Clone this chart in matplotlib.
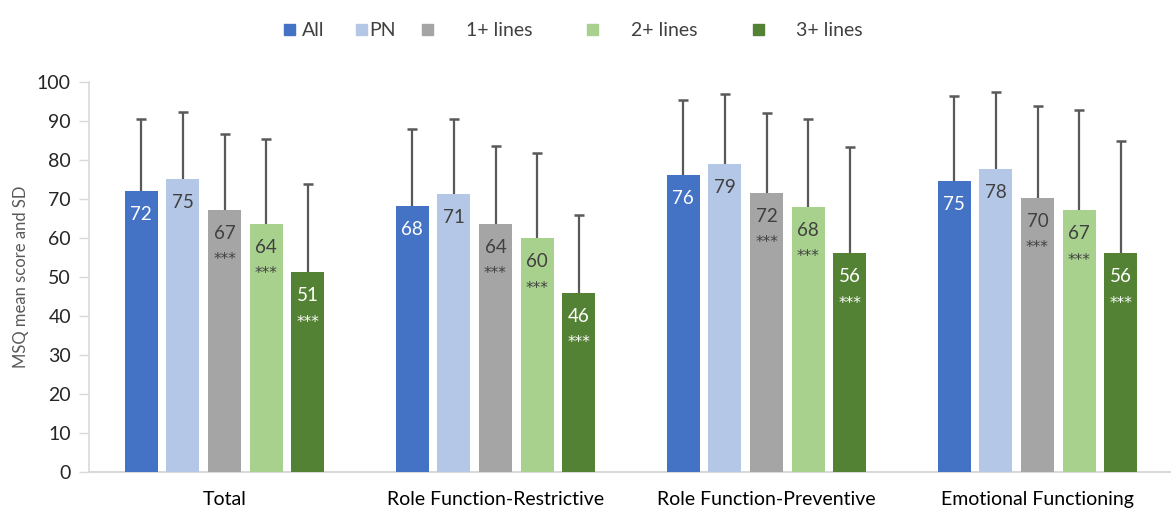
import matplotlib
matplotlib.use("Agg")
import matplotlib.pyplot as plt
import numpy as np
from matplotlib.patches import Rectangle

plt.rcParams["font.family"] = ["Lato", "DejaVu Sans"]

categories = ["Total", "Role Function-Restrictive", "Role Function-Preventive", "Emotional Functioning"]
series = ["All", "PN", "1+ lines", "2+ lines", "3+ lines"]
colors = ["#4472C4", "#B4C7E7", "#A5A5A5", "#A9D18E", "#548235"]
label_colors = ["white", "#404040", "#404040", "#404040", "white"]
significant = [False, False, True, True, True]

# mean MSQ scores per series (rows) and domain (columns)
mean_all = [72.0, 68.2, 76.1, 74.6]
mean_pn = [75.0, 71.3, 78.8, 77.7]
mean_1plus = [67.2, 63.6, 71.5, 70.2]
mean_2plus = [63.6, 59.8, 67.9, 67.0]
mean_3plus = [51.1, 45.8, 56.0, 56.0]

# standard deviations
sd_all = [18.4, 19.7, 19.2, 21.8]
sd_pn = [17.2, 19.1, 18.0, 19.6]
sd_1plus = [19.4, 19.9, 20.4, 23.6]
sd_2plus = [21.7, 22.0, 22.5, 25.7]
sd_3plus = [22.7, 20.1, 27.2, 28.9]

means = [mean_all, mean_pn, mean_1plus, mean_2plus, mean_3plus]
sds = [sd_all, sd_pn, sd_1plus, sd_2plus, sd_3plus]

W, H = 1171, 511
fig = plt.figure(figsize=(W / 100, H / 100), dpi=100)
# plot area runs slightly past the right edge of the canvas
ax = fig.add_axes([89 / W, 39.3 / H, 1084 / W, 390 / H])

x = np.arange(len(categories))
pitch = 0.154
width = 0.122
err_color = "#595959"

for i, (name, vals, sd) in enumerate(zip(series, means, sds)):
    xs = x + (i - 2) * pitch
    vals = np.array(vals)
    sd = np.array(sd)
    ax.bar(xs, vals, width=width, color=colors[i], zorder=3, label=name)
    ax.vlines(xs, vals, vals + sd, color=err_color, lw=1.6, zorder=2)
    ax.plot(xs, vals + sd, ls="none", marker="_", ms=7, mew=1.8,
            color=err_color, zorder=2)
    for xi, v in zip(xs, vals):
        ax.text(xi, v - 6.0, f"{v:.0f}", ha="center", va="center",
                fontsize=13.5, color=label_colors[i], zorder=4)
        if significant[i]:
            ax.text(xi, v - 12.8, "***", ha="center", va="center",
                    fontsize=11, color=label_colors[i], zorder=4,
                    family="DejaVu Sans")

ax.set_xlim(-0.5, len(categories) - 0.5)
ax.set_ylim(0, 100)
ax.set_yticks(np.arange(0, 101, 10))
ax.set_xticks(x)
ax.set_xticklabels(categories)
ax.tick_params(axis="x", length=0, pad=14, labelsize=14, labelcolor="#000000")
ax.tick_params(axis="y", length=7, width=1, color="#D9D9D9", pad=6,
               labelsize=14, labelcolor="#262626")
for side in ["top", "right"]:
    ax.spines[side].set_visible(False)
ax.spines["left"].set_color("#D9D9D9")
ax.spines["left"].set_linewidth(1.2)
ax.spines["bottom"].set_color("#D9D9D9")
ax.spines["bottom"].set_linewidth(1.5)
ax.set_ylabel("MSQ mean score and SD", fontsize=12, color="#595959", labelpad=6)

# legend row across the top
legend_sq = [284, 356, 422, 587, 753]
legend_tx = [302, 369, 466, 631, 796]
sq = 11
for i, name in enumerate(series):
    fig.patches.append(Rectangle((legend_sq[i] / W, (H - 30 - sq / 2) / H), sq / W, sq / H,
                                 transform=fig.transFigure, color=colors[i]))
    fig.text(legend_tx[i] / W, (H - 30) / H, name, ha="left", va="center",
             fontsize=14, color="#404040")

fig.savefig("out.png", dpi=100)
